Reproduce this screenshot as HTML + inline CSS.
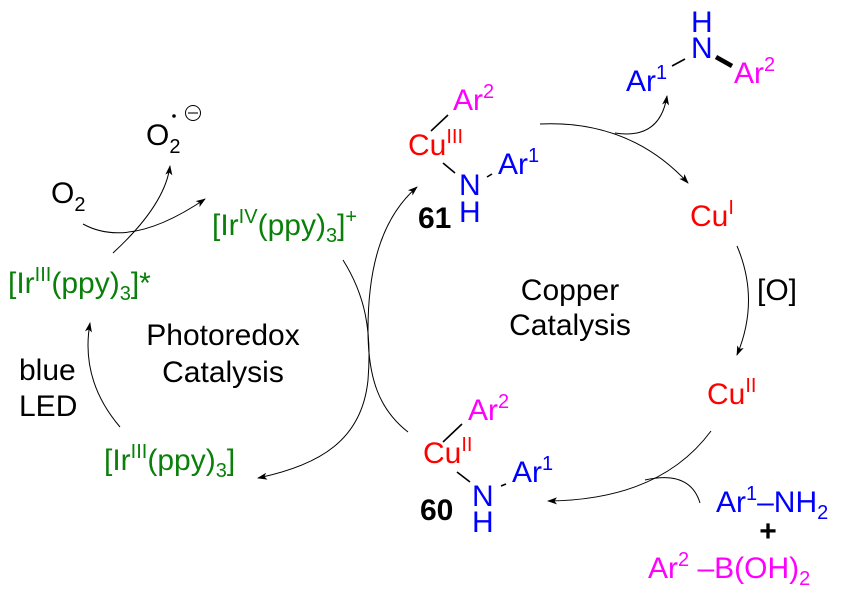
<!DOCTYPE html>
<html><head><meta charset="utf-8"><style>
html,body{margin:0;padding:0;background:#fff}
svg{display:block}
text{font-family:"Liberation Sans",Arial,sans-serif;font-size:30px}
.g{fill:#0a800a}.r{fill:#ff0000}.b{fill:#0000ff}.m{fill:#ff00ff}.k{fill:#000}
.s{font-size:20px}
</style></head><body>
<svg width="846" height="593" viewBox="0 0 846 593" xmlns="http://www.w3.org/2000/svg">
<defs>
<marker id="a" viewBox="0 0 10 10" refX="9" refY="5" markerWidth="10" markerHeight="10" markerUnits="userSpaceOnUse" orient="auto">
<path d="M0,1.5 L10,5 L0,8.5 L2.5,5 Z" fill="#000"/></marker>
</defs>
<g fill="none" stroke="#000" stroke-width="1">
<path d="M83,224 Q130,250 205,199" marker-end="url(#a)"/>
<path d="M113,253 Q165,205 170,166" marker-end="url(#a)"/>
<path d="M120,427 Q80,380 90,323" marker-end="url(#a)"/>
<path d="M343,260 C365,295 372,330 368,380 C362,440 320,465 258,478" marker-end="url(#a)"/>
<path d="M408,432 C380,410 368,380 368,330 C368,260 385,215 417,187" marker-end="url(#a)"/>
<path d="M540,124 Q630,120 688,183" marker-end="url(#a)"/>
<path d="M615,133 Q660,140 667,96" marker-end="url(#a)"/>
<path d="M737,246 Q760,300 737,355" marker-end="url(#a)"/>
<path d="M711,431 Q660,500 548,501" marker-end="url(#a)"/>
<path d="M700,503 Q690,470 645,480"/>
<circle cx="193" cy="113" r="7.5"/>
</g>
<line x1="188" y1="113" x2="198" y2="113" stroke="#777" stroke-width="2"/>
<circle cx="174" cy="116" r="1.8" fill="#000"/>
<g stroke="#000" stroke-width="1.6">
<line x1="431" y1="131" x2="448" y2="115"/>
<line x1="443" y1="163" x2="455" y2="173"/>
<line x1="487" y1="177" x2="492" y2="174"/>
<line x1="443" y1="442" x2="462" y2="424"/>
<line x1="457" y1="472" x2="470" y2="482"/>
<line x1="501" y1="486" x2="506" y2="484"/>
<line x1="672" y1="66" x2="685" y2="59"/>
<line x1="716" y1="57" x2="732" y2="66" stroke-width="4.5"/>
</g>
<text x="146" y="145" class="k">O<tspan class="s" dy="8">2</tspan></text>
<text x="51" y="203" class="k">O<tspan class="s" dy="8">2</tspan></text>
<text x="212" y="235" class="g">[Ir<tspan class="s" dy="-12">IV</tspan><tspan dy="12">(ppy)</tspan><tspan class="s" dy="7">3</tspan><tspan dy="-7">]</tspan><tspan class="s" dy="-12">+</tspan></text>
<text x="8" y="293" class="g">[Ir<tspan class="s" dy="-12">III</tspan><tspan dy="12">(ppy)</tspan><tspan class="s" dy="7">3</tspan><tspan dy="-7">]*</tspan></text>
<text x="223" y="345" class="k" text-anchor="middle">Photoredox</text>
<text x="223" y="382" class="k" text-anchor="middle">Catalysis</text>
<text x="19" y="380" class="k">blue</text>
<text x="19" y="416" class="k">LED</text>
<text x="104" y="470" class="g">[Ir<tspan class="s" dy="-12">III</tspan><tspan dy="12">(ppy)</tspan><tspan class="s" dy="7">3</tspan><tspan dy="-7">]</tspan></text>
<text x="453" y="110" class="m">Ar<tspan class="s" dy="-12">2</tspan></text>
<text x="408" y="155" class="r">Cu<tspan class="s" dy="-12">III</tspan></text>
<text x="459" y="195" class="b">N</text>
<text x="459" y="222" class="b">H</text>
<text x="498" y="174" class="b">Ar<tspan class="s" dy="-12">1</tspan></text>
<text x="418" y="228" class="k" font-weight="bold">61</text>
<text x="691" y="32" class="b">H</text>
<text x="691" y="58" class="b">N</text>
<text x="626" y="91" class="b">Ar<tspan class="s" dy="-12">1</tspan></text>
<text x="734" y="83" class="m">Ar<tspan class="s" dy="-12">2</tspan></text>
<text x="690" y="226" class="r">Cu<tspan class="s" dy="-12">I</tspan></text>
<text x="757" y="300" class="k">[O]</text>
<text x="570" y="300" class="k" text-anchor="middle">Copper</text>
<text x="570" y="335" class="k" text-anchor="middle">Catalysis</text>
<text x="707" y="404" class="r">Cu<tspan class="s" dy="-12">II</tspan></text>
<text x="468" y="420" class="m">Ar<tspan class="s" dy="-12">2</tspan></text>
<text x="423" y="463" class="r">Cu<tspan class="s" dy="-12">II</tspan></text>
<text x="472" y="506" class="b">N</text>
<text x="472" y="532" class="b">H</text>
<text x="512" y="482" class="b">Ar<tspan class="s" dy="-12">1</tspan></text>
<text x="420" y="520" class="k" font-weight="bold">60</text>
<text x="716" y="512" class="b">Ar<tspan class="s" dy="-12">1</tspan><tspan dy="12">–NH</tspan><tspan class="s" dy="7">2</tspan></text>
<text x="768" y="541" class="k" font-weight="bold" text-anchor="middle">+</text>
<text x="648" y="578" class="m">Ar<tspan class="s" dy="-12">2</tspan><tspan dy="12"> –B(OH)</tspan><tspan class="s" dy="7">2</tspan></text>
</svg>
</body></html>
